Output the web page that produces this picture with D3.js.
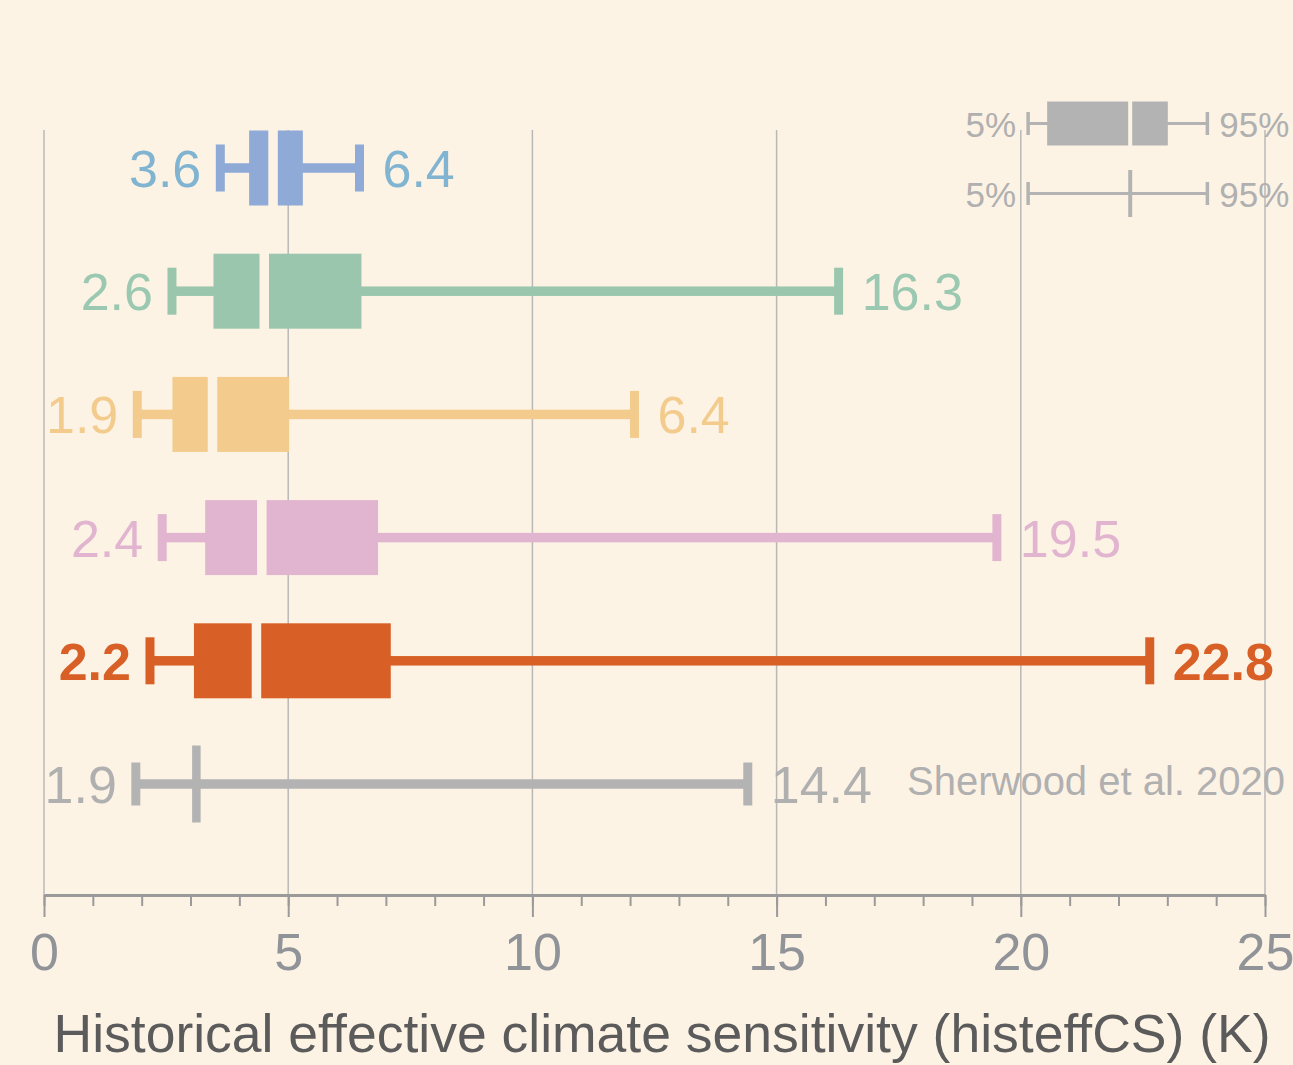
<!DOCTYPE html>
<html>
<head>
<meta charset="utf-8">
<script src="https://cdn.jsdelivr.net/npm/d3@7"></script>
<style>
  html, body { margin: 0; padding: 0; background: #fdf3e5; }
  svg { display: block; font-family: "Liberation Sans", Arial, sans-serif; }
</style>
</head>
<body>
<svg width="1293" height="1065"></svg>
<script>
// whisker ends (5% / 95%), box quartiles and medians
var lows    = [3.61, 2.62, 1.91, 2.42, 2.17, 1.88];
var q1s     = [4.20, 3.47, 2.63, 3.30, 3.07, null];
var medians = [4.69, 4.51, 3.45, 4.46, 4.35, 3.12];
var q3s     = [5.30, 6.50, 5.02, 6.84, 7.10, null];
var highs   = [6.46, 16.27, 12.09, 19.51, 22.64, 14.41];
var lowLabels  = ["3.6", "2.6", "1.9", "2.4", "2.2", "1.9"];
var highLabels = ["6.4", "16.3", "6.4", "19.5", "22.8", "14.4"];
var boxColors   = ["#8faad7", "#9bc6ae", "#f2cb8d", "#e1b5cf", "#d86027", "#b3b3b3"];
var labelColors = ["#80b4d0", "#9ac8b0", "#f2cb8d", "#e1b5cf", "#d86027", "#b0b0b0"];
var boldRow = 4;
var xTicks = [0, 5, 10, 15, 20, 25];
var xTitle = "Historical effective climate sensitivity (histeffCS) (K)";
var sourceNote = "Sherwood et al. 2020";
// legend key, drawn on the same x scale
var legendStats = {low: 20.15, q1: 20.54, med: 22.24, q3: 23.01, high: 23.82};
var legendLow = "5%", legendHigh = "95%";

var bg = "#fdf3e5";
var svg = d3.select("svg");

var x = d3.scaleLinear().domain([0, 25]).range([44, 1265]);
var rows = d3.range(lows.length);
var y = d3.scalePoint().domain(rows).range([168, 784]);

var gridTop = 130, axisY = 895;

// grid lines
svg.append("g")
  .selectAll("line")
  .data(xTicks)
  .enter().append("line")
    .attr("x1", function(d) { return x(d); })
    .attr("x2", function(d) { return x(d); })
    .attr("y1", gridTop)
    .attr("y2", axisY)
    .attr("stroke", "#b8b8b8")
    .attr("stroke-width", 1.5);

// axis with major + minor ticks
var axisG = svg.append("g").attr("transform", "translate(0," + axisY + ")");
axisG.append("g")
  .call(d3.axisBottom(x).ticks(25).tickSize(11).tickFormat(""))
  .call(function(g) { g.select(".domain").remove(); })
  .selectAll("line").attr("stroke", "#9a9a9a").attr("stroke-width", 2);
var major = axisG.append("g")
  .call(d3.axisBottom(x).tickValues(xTicks).tickSize(22).tickPadding(16).tickSizeOuter(0));
major.select(".domain").attr("stroke", "#9a9a9a").attr("stroke-width", 3);
major.selectAll(".tick line").attr("stroke", "#9a9a9a").attr("stroke-width", 2);
major.selectAll(".tick text")
  .attr("fill", "#909398")
  .style("font-size", "52px")
  .style("font-family", "'Liberation Sans', Arial, sans-serif");

svg.append("text")
  .attr("x", 662)
  .attr("y", 1052)
  .attr("text-anchor", "middle")
  .attr("fill", "#5b5b5b")
  .style("font-size", "53.5px")
  .text(xTitle);

// rows
var capW = 9, boxH = 75, lineW = 9.5, gapW = 9.5;

var row = svg.append("g")
  .selectAll("g")
  .data(rows)
  .enter().append("g")
    .attr("transform", function(i) { return "translate(0," + y(i) + ")"; });

row.append("rect")
  .attr("x", function(i) { return x(lows[i]); })
  .attr("width", function(i) { return x(highs[i]) - x(lows[i]); })
  .attr("y", -lineW / 2)
  .attr("height", lineW)
  .attr("fill", function(i) { return boxColors[i]; });

row.selectAll(".cap")
  .data(function(i) { return [[i, lows[i]], [i, highs[i]]]; })
  .enter().append("rect")
    .attr("class", "cap")
    .attr("x", function(d) { return x(d[1]) - capW / 2; })
    .attr("width", capW)
    .attr("y", function(d) { return d[0] == 5 ? -21.5 : -23.5; })
    .attr("height", function(d) { return d[0] == 5 ? 43 : 47; })
    .attr("fill", function(d) { return boxColors[d[0]]; });

var boxed = row.filter(function(i) { return q1s[i] != null; });
boxed.append("rect")
  .attr("x", function(i) { return x(q1s[i]); })
  .attr("width", function(i) { return x(q3s[i]) - x(q1s[i]); })
  .attr("y", -boxH / 2)
  .attr("height", boxH)
  .attr("fill", function(i) { return boxColors[i]; });
boxed.append("rect")
  .attr("x", function(i) { return x(medians[i]) - gapW / 2; })
  .attr("width", gapW)
  .attr("y", -boxH / 2 - 1)
  .attr("height", boxH + 2)
  .attr("fill", bg);

row.filter(function(i) { return q1s[i] == null; })
  .append("rect")
    .attr("x", function(i) { return x(medians[i]) - 4.25; })
    .attr("width", 8.5)
    .attr("y", -38.5)
    .attr("height", 77)
    .attr("fill", function(i) { return boxColors[i]; });

row.append("text")
  .attr("x", function(i) { return x(lows[i]) - 19; })
  .attr("y", 19)
  .attr("text-anchor", "end")
  .attr("fill", function(i) { return labelColors[i]; })
  .style("font-size", "52px")
  .style("font-weight", function(i) { return i == boldRow ? "bold" : "normal"; })
  .text(function(i) { return lowLabels[i]; });

row.append("text")
  .attr("x", function(i) { return x(highs[i]) + 23; })
  .attr("y", 19)
  .attr("fill", function(i) { return labelColors[i]; })
  .style("font-size", "52px")
  .style("font-weight", function(i) { return i == boldRow ? "bold" : "normal"; })
  .text(function(i) { return highLabels[i]; });

svg.append("text")
  .attr("x", 907)
  .attr("y", y(5) + 11)
  .attr("fill", "#b0b0b0")
  .style("font-size", "40px")
  .text(sourceNote);

// legend key
var legColor = "#b3b3b3", legText = "#b0b0b0";
var leg = svg.append("g");
[123.5, 193.5].forEach(function(cy, k) {
  var g = leg.append("g").attr("transform", "translate(0," + cy + ")");
  g.append("rect")
    .attr("x", x(legendStats.low))
    .attr("width", x(legendStats.high) - x(legendStats.low))
    .attr("y", -1.5).attr("height", 3)
    .attr("fill", legColor);
  [legendStats.low, legendStats.high].forEach(function(v) {
    g.append("rect")
      .attr("x", x(v) - 1.75).attr("width", 3.5)
      .attr("y", -11.5).attr("height", 23)
      .attr("fill", legColor);
  });
  if (k == 0) {
    g.append("rect")
      .attr("x", x(legendStats.q1))
      .attr("width", x(legendStats.q3) - x(legendStats.q1))
      .attr("y", -22).attr("height", 44)
      .attr("fill", legColor);
    g.append("rect")
      .attr("x", x(legendStats.med) - 2).attr("width", 4)
      .attr("y", -23).attr("height", 46)
      .attr("fill", bg);
  } else {
    g.append("rect")
      .attr("x", x(legendStats.med) - 2).attr("width", 4)
      .attr("y", -23.5).attr("height", 47)
      .attr("fill", legColor);
  }
  g.append("text")
    .attr("x", x(legendStats.low) - 12)
    .attr("y", 13.5)
    .attr("text-anchor", "end")
    .attr("fill", legText)
    .style("font-size", "35px")
    .text(legendLow);
  g.append("text")
    .attr("x", x(legendStats.high) + 12)
    .attr("y", 13.5)
    .attr("fill", legText)
    .style("font-size", "35px")
    .text(legendHigh);
});
</script>
</body>
</html>
